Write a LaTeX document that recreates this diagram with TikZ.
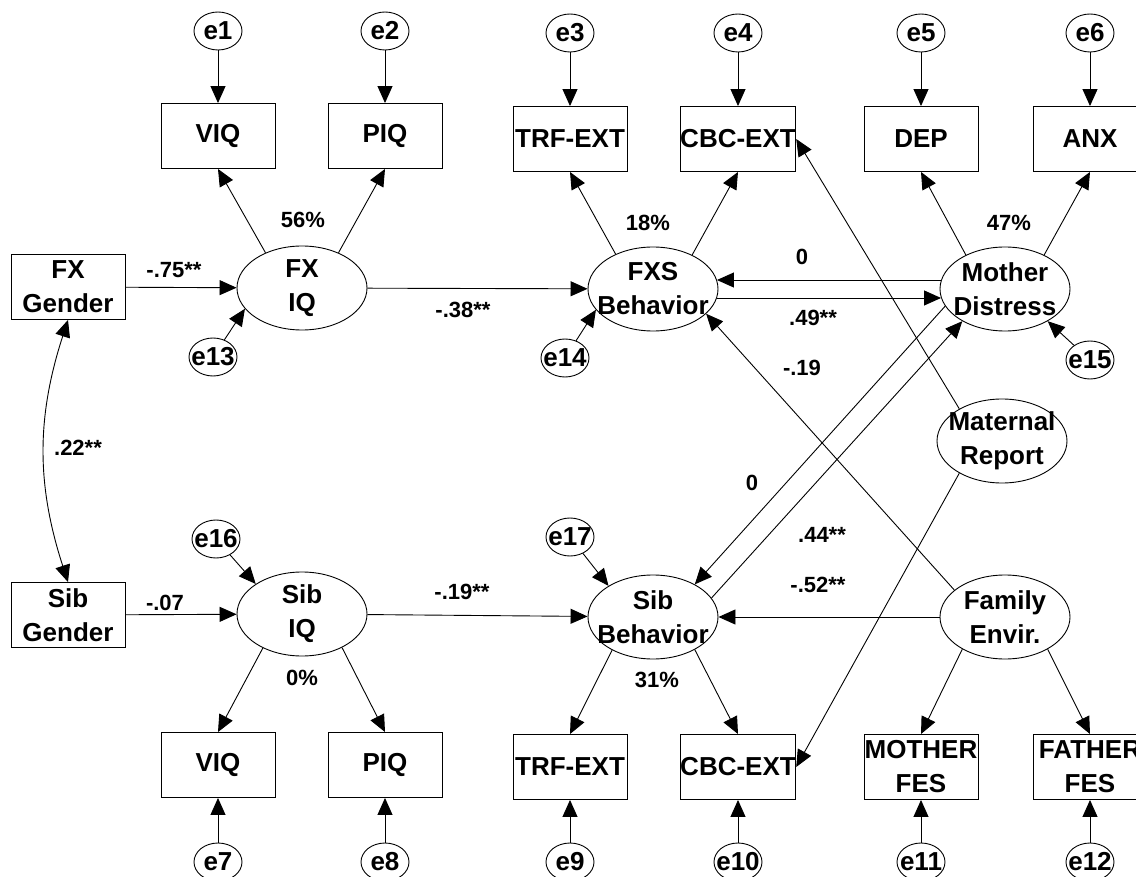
\documentclass[tikz,border=0pt]{standalone}
\usepackage{fontspec}
\setmainfont{Liberation Sans}
\usetikzlibrary{arrows.meta,shapes.geometric}
\newcommand{\ndfont}{\fontsize{26}{34}\selectfont\bfseries}
\newcommand{\lbfont}{\fontsize{22}{26}\selectfont\bfseries}
\begin{document}
\begin{tikzpicture}[x=1pt,y=-1pt,line width=0.9pt,
 obs/.style={draw,rectangle,minimum width=114pt,minimum height=65pt,inner sep=0pt,align=center,fill=white,font=\ndfont},
 lat/.style={draw,ellipse,minimum width=130pt,minimum height=84pt,inner sep=0pt,fill=white,label={[font=\ndfont,align=center,inner sep=0pt]center:{#1}}},
 err/.style={draw,ellipse,minimum width=48pt,minimum height=38pt,inner sep=0pt,fill=white,label={[font=\ndfont,inner sep=0pt]center:{#1}}},
 lbl/.style={font=\lbfont,inner sep=0pt},
 arr/.style={-{Triangle[length=17pt,width=15pt]}},
 darr/.style={{Triangle[length=17pt,width=15pt]}-{Triangle[length=17pt,width=15pt]}}]
\clip (0,0) rectangle (1136,877);
\fill[white] (0,0) rectangle (1136,877);
% observed
\node[obs] (fxg) at (68,287) {FX\\Gender};
\node[obs] (sibg) at (68,615) {Sib\\Gender};
\node[obs] (viq1) at (218,136) {VIQ};
\node[obs] (piq1) at (385,136) {PIQ};
\node[obs] (trf1) at (570,139) {TRF-EXT};
\node[obs] (cbc1) at (738,139) {CBC-EXT};
\node[obs] (dep) at (921,139) {DEP};
\node[obs] (anx) at (1090,139) {ANX};
\node[obs] (viq2) at (218,765) {VIQ};
\node[obs] (piq2) at (385,765) {PIQ};
\node[obs] (trf2) at (570,767) {TRF-EXT};
\node[obs] (cbc2) at (738,767) {CBC-EXT};
\node[obs] (mfes) at (921,767) {MOTHER\\FES};
\node[obs] (ffes) at (1090,767) {FATHER\\FES};
% latent
\node[lat={FX\\IQ}] (fxiq) at (302,288) {};
\node[lat={FXS\\Behavior}] (fxs) at (653,289) {};
\node[lat={Mother\\Distress}] (md) at (1005,289) {};
\node[lat={Maternal\\Report}] (mr) at (1002,441) {};
\node[lat={Family\\Envir.}] (fe) at (1005,617) {};
\node[lat={Sib\\IQ}] (sibiq) at (302,614) {};
\node[lat={Sib\\Behavior}] (sibb) at (653,617) {};
% errors
\node[err=e1] (e1) at (218,31) {};
\node[err=e2] (e2) at (385,31) {};
\node[err=e3] (e3) at (570,33) {};
\node[err=e4] (e4) at (738,33) {};
\node[err=e5] (e5) at (921,33) {};
\node[err=e6] (e6) at (1090,33) {};
\node[err=e7] (e7) at (218,862) {};
\node[err=e8] (e8) at (385,862) {};
\node[err=e9] (e9) at (570,862) {};
\node[err=e10] (e10) at (738,862) {};
\node[err=e11] (e11) at (921,862) {};
\node[err=e12] (e12) at (1090,862) {};
\node[err=e13] (e13) at (213,357) {};
\node[err=e14] (e14) at (565,358) {};
\node[err=e15] (e15) at (1090,360) {};
\node[err=e16] (e16) at (216,539) {};
\node[err=e17] (e17) at (570,537) {};
% error arrows
\draw[arr] (e1) -- (viq1.north);
\draw[arr] (e2) -- (piq1.north);
\draw[arr] (e3) -- (trf1.north);
\draw[arr] (e4) -- (cbc1.north);
\draw[arr] (e5) -- (dep.north);
\draw[arr] (e6) -- (anx.north);
\draw[arr] (e7) -- (viq2.south);
\draw[arr] (e8) -- (piq2.south);
\draw[arr] (e9) -- (trf2.south);
\draw[arr] (e10) -- (cbc2.south);
\draw[arr] (e11) -- (mfes.south);
\draw[arr] (e12) -- (ffes.south);
\draw[arr] (e13) -- (fxiq.200);
\draw[arr] (e14) -- (fxs.200);
\draw[arr] (e15) -- (md.323);
\draw[arr] (e16) -- (sibiq.147);
\draw[arr] (e17) -- (sibb.145);
% loadings
\draw[arr] (fxiq.136) -- (viq1.south);
\draw[arr] (fxiq.44) -- (piq1.south);
\draw[arr] (fxs.137) -- (trf1.south);
\draw[arr] (fxs.41) -- (cbc1.south);
\draw[arr] (md.139) -- (dep.south);
\draw[arr] (md.41) -- (anx.south);
\draw[arr] (sibiq.221) -- (viq2.north);
\draw[arr] (sibiq.320) -- (piq2.north);
\draw[arr] (sibb.219) -- (trf2.north);
\draw[arr] (sibb.322) -- (cbc2.north);
\draw[arr] (fe.217) -- (mfes.north);
\draw[arr] (fe.323) -- (ffes.north);
% structural paths
\draw[arr] (fxg) -- (fxiq);
\draw[arr] (sibg) -- (sibiq);
\draw[arr] (fxiq) -- (fxs);
\draw[arr] (sibiq) -- (sibb);
\draw[arr] (md.172) -- (fxs.8);
\draw[arr] (fxs.352) -- (md.188);
\draw[arr] (md.196) -- (sibb.38);
\draw[arr] (sibb.18) -- (md.217);
\draw[arr] (fe.152) -- (fxs.335);
\draw[arr] (fe) -- (sibb);
\draw[arr] (mr.143) -- (cbc1.east);
\draw[arr] (mr.217) -- (cbc2.east);
\draw[darr] (fxg.south) to[bend right=18] (sibg.north);
% labels
\node[lbl] (l56) at (303,220) {56\%};
\node[lbl] (l18) at (648,223) {18\%};
\node[lbl] (l47) at (1009,223) {47\%};
\node[lbl] (l0p) at (302,678) {0\%};
\node[lbl] (l31) at (657,680) {31\%};
\node[lbl] (l75) at (174,270) {-.75**};
\node[lbl] (l38) at (463,310) {-.38**};
\node[lbl] (lz1) at (802,257) {0};
\node[lbl] (l49) at (813,318) {.49**};
\node[lbl] (l19) at (802,368) {-.19};
\node[lbl] (lz2) at (752,483) {0};
\node[lbl] (l44) at (822,535) {.44**};
\node[lbl] (l52) at (818,585) {-.52**};
\node[lbl] (l07) at (165,603) {-.07};
\node[lbl] (l19b) at (462,592) {-.19**};
\node[lbl] (l22) at (78,448) {.22**};
\end{tikzpicture}
\end{document}
